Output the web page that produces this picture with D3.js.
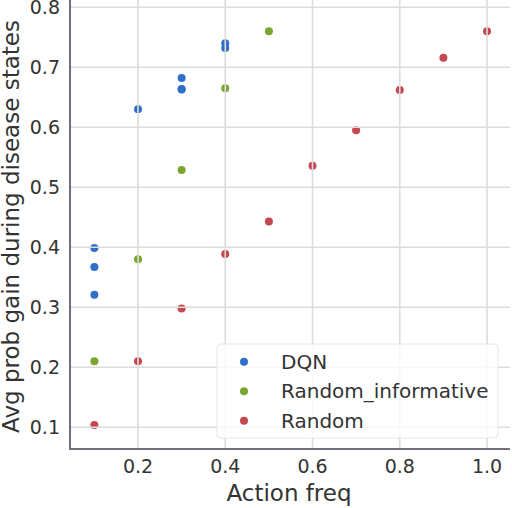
<!DOCTYPE html>
<meta charset="utf-8">
<style>
body { margin: 0; background: #fff; }
svg { font-family: "DejaVu Sans", sans-serif; }
.grid line { stroke: #dcdcdc; stroke-width: 1.6px; }
.tick-label { font-size: 19px; fill: #333; }
.axis-title { font-size: 23px; fill: #333; }
.legend text { font-size: 20px; fill: #333; }
</style>
<svg width="512" height="508"></svg>
<script src="https://d3js.org/d3.v7.min.js"></script>
<script>

// series
var dqnX = [0.1, 0.1, 0.1, 0.2, 0.3, 0.3, 0.3, 0.4, 0.4];
var dqnY = [0.399, 0.367, 0.321, 0.630, 0.682, 0.664, 0.663, 0.740, 0.732];

var infoX = [0.1, 0.2, 0.3, 0.4, 0.5];
var infoY = [0.210, 0.380, 0.529, 0.665, 0.760];

var randX = [0.1, 0.2, 0.3, 0.4, 0.5, 0.6, 0.7, 0.8, 0.9, 1.0];
var randY = [0.104, 0.210, 0.298, 0.389, 0.443, 0.536, 0.595, 0.662, 0.716, 0.760];

var seriesNames = ['DQN', 'Random_informative', 'Random'];
var seriesColors = ['#3070c8', '#7aa52f', '#c5474f'];

var xTicks = [0.2, 0.4, 0.6, 0.8, 1.0];
var yTicks = [0.1, 0.2, 0.3, 0.4, 0.5, 0.6, 0.7, 0.8];

var svg = d3.select('svg');

var plotLeft = 70, plotRight = 510, plotTop = 0, plotBottom = 449;

var x = d3.scaleLinear().domain([0.0441, 1.0527]).range([plotLeft, plotRight]);
var y = d3.scaleLinear().domain([0.0638, 0.8122]).range([plotBottom, plotTop]);

var series = [
  { name: seriesNames[0], color: seriesColors[0], xs: dqnX, ys: dqnY },
  { name: seriesNames[1], color: seriesColors[1], xs: infoX, ys: infoY },
  { name: seriesNames[2], color: seriesColors[2], xs: randX, ys: randY }
];

// points
series.forEach(function(s) {
  svg.append('g').selectAll('circle')
    .data(s.xs.map(function(v, i) { return [v, s.ys[i]]; }))
    .enter().append('circle')
    .attr('cx', function(d) { return x(d[0]); })
    .attr('cy', function(d) { return y(d[1]); })
    .attr('r', 4)
    .attr('fill', s.color);
});

// grid drawn over the points, as in the original
var grid = svg.append('g').attr('class', 'grid');
grid.selectAll('.gx').data(xTicks).enter().append('line')
  .attr('x1', function(d) { return x(d); }).attr('x2', function(d) { return x(d); })
  .attr('y1', plotTop).attr('y2', plotBottom);
grid.selectAll('.gy').data(yTicks).enter().append('line')
  .attr('x1', plotLeft).attr('x2', plotRight)
  .attr('y1', function(d) { return y(d); }).attr('y2', function(d) { return y(d); });

// spines
svg.append('line').attr('x1', plotLeft).attr('x2', plotLeft).attr('y1', plotTop).attr('y2', plotBottom)
  .attr('stroke', '#6e737b').attr('stroke-width', 2);
svg.append('line').attr('x1', plotLeft - 1).attr('x2', plotRight).attr('y1', plotBottom).attr('y2', plotBottom)
  .attr('stroke', '#6e737b').attr('stroke-width', 2);

// tick labels
var fmt = d3.format('.1f');
svg.selectAll('.xt').data(xTicks).enter().append('text')
  .attr('class', 'tick-label')
  .attr('x', function(d) { return x(d); })
  .attr('y', 473)
  .attr('text-anchor', 'middle')
  .text(fmt);
svg.selectAll('.yt').data(yTicks).enter().append('text')
  .attr('class', 'tick-label')
  .attr('x', 60)
  .attr('y', function(d) { return y(d) + 7; })
  .attr('text-anchor', 'end')
  .text(fmt);

// axis titles
svg.append('text').attr('class', 'axis-title')
  .attr('x', (plotLeft + plotRight) / 2 - 1).attr('y', 501)
  .attr('text-anchor', 'middle')
  .text('Action freq');
svg.append('text').attr('class', 'axis-title')
  .attr('transform', 'translate(18.5,226.5) rotate(-90)')
  .attr('text-anchor', 'middle')
  .text('Avg prob gain during disease states');

// legend
var legend = svg.append('g').attr('class', 'legend');
legend.append('rect')
  .attr('x', 217).attr('y', 344).attr('width', 281).attr('height', 94)
  .attr('rx', 4)
  .attr('fill', '#fff').attr('fill-opacity', 0.8)
  .attr('stroke', '#e6e6e6');
var rows = legend.selectAll('.row').data(series).enter().append('g')
  .attr('transform', function(d, i) { return 'translate(0,' + (361.7 + i * 29.5) + ')'; });
rows.append('circle').attr('cx', 244).attr('cy', 0).attr('r', 4)
  .attr('fill', function(d) { return d.color; });
rows.append('text').attr('x', 281).attr('y', 7)
  .text(function(d) { return d.name; });

</script>
